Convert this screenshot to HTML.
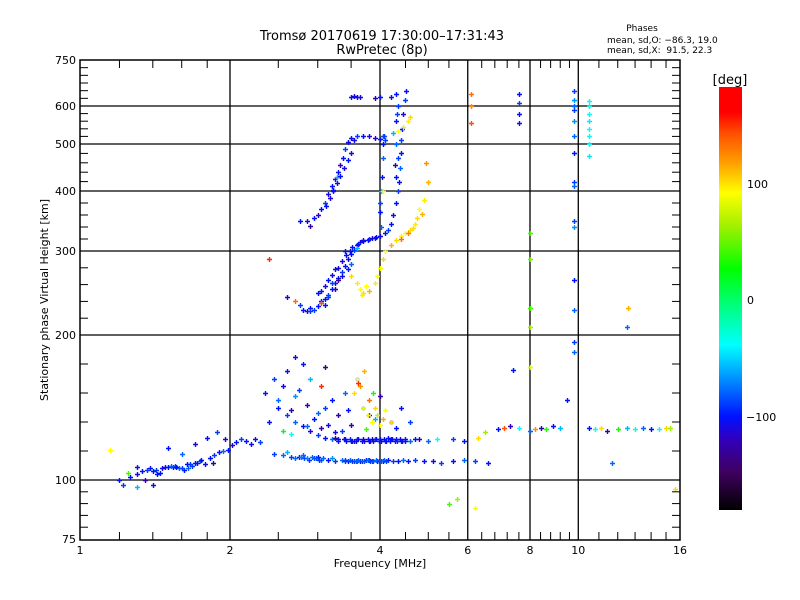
<!DOCTYPE html>
<html><head><meta charset="utf-8">
<style>
body{margin:0;background:#fff;}
svg{display:block;font-family:"DejaVu Sans","Liberation Sans",sans-serif;}
</style></head>
<body>
<svg id="chart" width="800" height="600" viewBox="0 0 800 600">
<rect x="0" y="0" width="800" height="600" fill="#fff"/>
<text x="382" y="40" text-anchor="middle" font-size="13">Tromsø 20170619 17:30:00–17:31:43</text>
<text x="382" y="54" text-anchor="middle" font-size="13">RwPretec (8p)</text>
<text x="642" y="31" text-anchor="middle" font-size="9">Phases</text>
<text x="607" y="43" font-size="9">mean, sd,O: −86.3, 19.0</text>
<text x="607" y="53" font-size="9" xml:space="preserve">mean, sd,X:  91.5, 22.3</text>
<g id="grid"></g>
<g id="marks"></g>
<rect x="80" y="60" width="600" height="480" fill="none" stroke="#000" stroke-width="1.5"/>
<g id="axes"></g>
<text x="380" y="567" text-anchor="middle" font-size="11">Frequency [MHz]</text>
<text transform="translate(48,300) rotate(-90)" text-anchor="middle" font-size="11">Stationary phase Virtual Height [km]</text>
<defs>
<linearGradient id="cb" x1="0" y1="0" x2="0" y2="1">
<stop offset="0" stop-color="#ff0000"/><stop offset="0.06" stop-color="#ff0000"/><stop offset="0.11" stop-color="#ff5000"/><stop offset="0.18" stop-color="#ffa000"/><stop offset="0.25" stop-color="#ffff00"/><stop offset="0.33" stop-color="#a0f000"/><stop offset="0.43" stop-color="#00ff00"/><stop offset="0.53" stop-color="#00ff90"/><stop offset="0.61" stop-color="#00ffff"/><stop offset="0.69" stop-color="#0090ff"/><stop offset="0.78" stop-color="#0010ff"/><stop offset="0.83" stop-color="#3000c0"/><stop offset="0.91" stop-color="#400060"/><stop offset="1" stop-color="#000000"/>
</linearGradient>
</defs>
<rect x="719" y="87" width="23" height="423" fill="url(#cb)"/>
<text x="730" y="84" text-anchor="middle" font-size="13">[deg]</text>
<text x="747" y="188" font-size="11">100</text>
<text x="747" y="304" font-size="11">0</text>
<text x="746" y="421" font-size="11">−100</text>
</svg>
<script>
const xTicks=[1,2,4,6,8,10,16];
const xGrid=[2,4,6,8,10];
const xMinor=[1.2,1.4,1.6,1.8,2.5,3,3.5,4.5,5,5.5,6.4,6.8,7.2,7.6,8.4,8.8,9.2,9.6,11,12,13,14,15];
const yTicks=[75,100,200,300,400,500,600,750];
const yGrid=[100,200,300,400,500,600];
const yMinor=[80,85,90,95,120,140,160,180,220,240,260,280,320,340,360,380,420,440,460,480,520,540,560,580,625,650,675,700,725];
const yKnotH=[75,100,200,300,400,500,600,750];
const yKnotP=[539,480,335,251,191,144,106,60];

const freqs=[
1.2,1.22,1.26,1.3,1.33,1.36,1.4,1.43,1.46,1.5,1.54,1.58,1.62,1.66,1.7,1.74,1.78,1.82,1.86,1.9,1.94,1.98,2.02,2.06,2.1,2.15,2.2,2.25,2.3,
1.15,1.25,1.3,1.5,1.6,1.7,1.8,1.88,1.95,1.85,1.4,1.35,1.3,1.45,1.55,1.65,1.75,
2.45,2.55,2.65,2.75,2.85,2.95,3.05,3.15,3.25,3.35,3.45,3.55,3.65,3.75,3.85,3.95,4.05,4.15,4.25,4.35,4.45,4.55,4.7,4.9,5.1,5.3,5.6,5.9,6.2,6.6,2.6,2.8,3.0,3.2,3.4,3.6,3.8,
2.5,2.6,2.7,2.8,2.9,3.0,3.1,3.2,3.3,3.4,3.5,3.6,3.7,3.8,3.9,4.0,4.1,4.2,4.3,4.4,4.5,4.6,4.7,4.8,5.0,5.2,5.6,5.9,3.25,3.55,3.85,4.15,
2.35,2.45,2.5,2.55,2.6,2.65,2.7,2.75,2.8,2.85,2.9,2.95,3.0,3.05,3.1,3.15,3.2,3.3,3.4,3.45,3.5,3.6,3.7,3.8,3.9,4.0,4.2,4.4,4.6,2.55,2.65,2.85,3.05,3.25,3.35,2.4,2.7,3.1,
3.55,3.6,3.65,3.7,3.72,3.78,3.8,3.85,3.9,3.95,4.0,4.05,3.75,3.62,3.88,4.1,4.2,4.3,
6.3,6.5,6.9,7.1,7.3,7.6,8.0,8.2,8.4,8.6,8.9,9.2,10.5,10.8,11.1,11.4,12.0,12.5,13.0,13.5,14.0,14.5,15.0,15.3,9.5,11.7,
9.8,9.8,9.8,9.8,9.8,9.8,9.8,9.8,9.8,9.8,9.8,9.8,9.8,9.8,9.8,10.5,10.5,10.5,10.5,10.5,10.5,10.5,10.5,7.6,7.6,7.6,7.6,6.1,6.1,6.1,8.0,8.0,8.0,8.0,8.0,12.6,12.5,15.6,7.4,5.7,5.5,6.2,
2.76,2.8,2.85,2.9,2.95,3.0,3.05,3.1,3.15,3.2,3.25,3.3,3.35,3.4,3.45,3.5,3.55,3.6,3.65,3.7,3.8,3.9,4.0,4.1,4.15,4.2,4.25,4.3,4.35,4.37,4.38,4.4,4.4,4.42,4.45,4.5,4.52,
3.0,3.2,3.3,3.4,3.5,3.3,3.1,3.15,3.35,3.45,3.25,2.9,3.05,3.6,2.6,2.7,
2.76,2.85,2.95,3.0,3.05,3.1,3.15,3.2,3.25,3.3,3.33,3.37,3.4,3.45,3.5,3.6,3.7,3.8,3.9,4.0,4.1,4.05,3.55,3.28,3.22,2.9,
3.5,3.55,3.6,3.65,4.0,4.2,4.3,3.9,
4.02,4.0,4.0,4.02,4.03,4.05,4.05,4.07,4.3,4.35,4.3,4.25,4.3,4.35,4.28,4.33,
3.5,3.6,3.65,3.7,3.8,3.9,3.95,4.0,4.05,4.1,4.2,4.3,4.4,4.5,4.6,4.7,4.75,4.8,4.9,4.4,4.55,3.75,3.68,4.35,4.45,4.55,4.6,4.95,5.0,4.05,4.65,4.85,2.4,
3.3,3.38,3.42,3.48,3.52,3.58,3.62,3.68,3.72,3.78,3.82,3.88,3.92,3.98,4.02,4.08,4.12,4.18,4.22,4.28,4.32,4.38,4.42,4.48,
3.4,3.48,3.52,3.58,3.62,3.68,3.72,3.78,3.82,3.88,3.92,3.98,4.02,4.08,4.12,2.7,2.78,2.82,2.88,2.92,2.98,3.02,3.08,
1.38,1.42,1.48,1.52,1.56,1.6,1.64,1.68,1.72,
3.05,3.1,3.15,3.2,3.25,3.35,3.42,3.48,3.52,3.62,3.7,3.78,3.85,3.92,
3.12,3.18,3.22,3.28,3.33,3.38,3.45,3.5
];
const heights=[
100,98,102,104,106,107,106,104,108,109,109,108,107,111,112,113,111,115,117,119,120,121,124,126,128,127,125,128,126,
121,105,109,122,118,125,129,133,128,112,98,100,97,105,110,108,114,
118,117,116,116,115,115,114,114,113,114,113,113,113,114,113,113,113,114,113,113,114,113,114,113,113,112,113,114,113,112,119,117,116,115,114,113,114,
150,145,140,137,134,131,129,128,128,128,127,128,128,127,128,128,127,128,128,127,128,127,128,128,127,128,128,127,129,127,128,129,
160,170,155,165,175,148,158,162,180,152,170,142,146,165,150,138,155,145,160,148,138,170,150,145,142,158,140,150,140,134,132,137,136,133,134,140,185,178,
160,170,165,150,175,145,155,140,150,145,138,142,135,167,160,148,140,136,
129,133,135,136,137,136,134,135,136,135,137,136,136,135,136,134,135,136,135,136,135,135,136,136,155,112,
650,620,600,590,560,520,480,420,410,350,340,265,230,195,188,615,600,580,560,540,520,500,475,640,610,580,555,640,600,555,330,290,232,210,178,232,210,96,176,92,90,88,
236,230,228,232,230,235,240,243,248,255,262,268,275,282,290,296,302,310,315,318,320,322,325,330,335,345,360,380,400,420,450,480,510,540,580,620,650,
250,262,280,300,285,265,236,245,270,278,255,228,238,305,245,240,
350,350,355,360,370,380,395,410,425,440,455,470,490,505,515,520,522,520,515,512,510,520,510,430,400,342,
630,632,630,628,628,630,640,625,
340,365,380,400,430,470,500,520,430,470,500,530,560,600,455,580,
270,262,255,250,252,262,270,280,290,300,310,318,325,330,335,345,355,370,385,320,330,258,248,535,545,560,570,460,420,400,338,362,290,
127,128,127,128,127,127,128,127,127,128,127,127,128,127,127,128,127,127,128,127,127,128,127,127,
113,114,113,113,114,113,113,114,113,113,114,113,113,114,113,115,116,115,114,116,115,114,115,
108,107,109,110,109,108,111,110,112,
252,258,265,272,278,288,295,300,306,312,316,319,321,323,
375,388,402,418,432,448,465,480
];
const phases=[
-100,-90,-100,-110,-100,-90,-100,-100,-110,-100,-100,-80,-100,-90,-100,-80,-110,-100,-90,-100,-80,-100,-110,-100,-90,-100,-100,-110,-90,
90,40,-100,-100,-80,-110,-100,-90,-110,-130,-110,-130,-60,-100,-90,-80,-100,
-90,-80,-90,-100,-70,-90,-80,-100,-90,-80,-100,-90,-110,-100,-90,-100,-110,-100,-90,-100,-80,-100,-90,-100,-110,-90,-100,-80,-90,-100,-60,-80,-100,-70,-90,-80,-110,
-100,-90,-80,-100,-110,-90,-100,-80,-110,-100,-100,-90,-110,-100,-80,-100,-90,-110,-100,-90,-100,-80,-100,-120,-80,-40,-90,-100,-130,-110,-120,-100,
-100,-90,-80,-110,-100,-130,-70,-90,-100,-120,-60,-100,-80,150,-90,-110,-100,-130,-80,-100,-120,-90,-70,-100,-60,-130,-110,-100,-90,20,-40,-80,-130,-110,-90,-100,-110,-130,
100,90,120,80,110,95,130,90,100,70,85,110,40,150,20,90,100,-100,
100,60,-100,140,-120,-40,-80,120,-130,30,-100,-60,-100,-40,100,-120,30,-60,-30,-80,-100,-40,100,60,-100,-80,
-90,-70,-80,-90,-70,-80,-100,-90,-80,-90,-70,-100,-80,-90,-80,-40,-35,-40,-45,-40,-35,-40,-45,-100,-90,-100,-100,130,120,140,40,50,40,60,80,110,-80,100,-100,60,40,90,
-90,-100,-110,-100,-90,-100,-110,-100,-90,-100,-110,-100,-90,-100,-110,-100,-90,-100,-110,-100,-90,-100,-110,-100,-90,-100,-110,-100,-90,-100,-80,-100,-90,-100,-110,-90,-100,
-100,-90,-110,-100,-80,-130,-100,-90,-110,-100,-120,-90,140,-60,-110,130,
-100,-110,-100,-120,-100,-90,-110,-100,-110,-100,-120,-100,-90,-110,-100,-90,-100,-110,-120,-100,-90,-80,-110,-60,-100,-130,
-100,-110,-100,-110,-100,-110,-100,-130,
-80,-100,-90,-60,-100,-80,-100,-90,-100,-90,-80,-60,-100,-90,-130,-90,
100,95,90,100,110,95,90,85,100,90,110,100,95,90,100,95,100,90,95,130,125,90,95,90,80,95,100,120,110,90,100,110,150,
-100,-110,-100,-95,-105,-110,-100,-100,-110,-105,-100,-110,-100,-95,-110,-100,-105,-100,-110,-100,-95,-105,-110,-100,
-90,-80,-90,-85,-80,-90,-85,-80,-90,-85,-80,-90,-85,-80,-90,-80,-75,-85,-90,-80,-85,-90,-80,
-100,-90,-100,-80,-100,-90,-100,-90,-100,
-100,-110,-100,-110,-100,-110,-100,-110,-100,-100,-110,-100,-110,-100,
-100,-110,-100,-110,-100,-110,-100,-110
];

const NS="http://www.w3.org/2000/svg";
function xScale(f){return 80+150*Math.log2(f);}
function yScale(h){
  for(let i=0;i<yKnotH.length-1;i++){
    if(h<=yKnotH[i+1]||i===yKnotH.length-2){
      const t=(h-yKnotH[i])/(yKnotH[i+1]-yKnotH[i]);
      return yKnotP[i]+t*(yKnotP[i+1]-yKnotP[i]);
    }
  }
}
const cStops=[[-180,[0,0,0]],[-150,[64,0,96]],[-120,[48,0,192]],[-100,[0,16,255]],[-70,[0,144,255]],[-40,[0,255,255]],[-10,[0,255,144]],[25,[0,255,0]],[60,[160,240,0]],[90,[255,255,0]],[115,[255,160,0]],[140,[255,80,0]],[160,[255,0,0]],[180,[255,0,0]]];
function color(p){
  p=Math.max(-180,Math.min(180,p));
  for(let i=0;i<cStops.length-1;i++){
    if(p<=cStops[i+1][0]){
      const t=(p-cStops[i][0])/(cStops[i+1][0]-cStops[i][0]);
      const a=cStops[i][1],b=cStops[i+1][1];
      return "rgb("+a.map((v,k)=>Math.round(v+t*(b[k]-v))).join(",")+")";
    }
  }
  return "rgb(255,0,0)";
}
function line(g,x1,y1,x2,y2,w){
  const l=document.createElementNS(NS,"line");
  l.setAttribute("x1",x1);l.setAttribute("y1",y1);l.setAttribute("x2",x2);l.setAttribute("y2",y2);
  l.setAttribute("stroke","#000");l.setAttribute("stroke-width",w);
  g.appendChild(l);return l;
}
function txt(g,x,y,s,anchor){
  const t=document.createElementNS(NS,"text");
  t.setAttribute("x",x);t.setAttribute("y",y);t.setAttribute("font-size","11");
  t.setAttribute("text-anchor",anchor);t.textContent=s;g.appendChild(t);return t;
}
const grid=document.getElementById("grid"),axes=document.getElementById("axes"),marks=document.getElementById("marks");
xGrid.forEach(f=>{const l=line(grid,xScale(f),60,xScale(f),540,1.3);

});
yGrid.forEach(h=>{const l=line(grid,80,yScale(h),680,yScale(h),1.3);

});
xMinor.forEach(f=>{const x=xScale(f);
const a=line(axes,x,60,x,68,1);


const b=line(axes,x,540,x,532,1);

});
yMinor.forEach(h=>{const y=yScale(h);
const a=line(axes,80,y,88,y,1);


const b=line(axes,680,y,672,y,1);

});
xTicks.forEach(f=>{const t=txt(axes,xScale(f),554,String(f),"middle");

});
yTicks.forEach(h=>{const t=txt(axes,76,yScale(h)+4,String(h),"end");

});
for(let i=0;i<freqs.length;i++){
  const x=Math.round(xScale(freqs[i])),y=Math.round(yScale(heights[i]));
  const p=document.createElementNS(NS,"path");
  p.setAttribute("d","M"+(x-2)+" "+(y+0.5)+"h5M"+(x+0.5)+" "+(y-2)+"v5");
  p.setAttribute("stroke",color(phases[i]));
  p.setAttribute("stroke-width","1.4");
  
  
  marks.appendChild(p);
}
</script>
</body></html>
